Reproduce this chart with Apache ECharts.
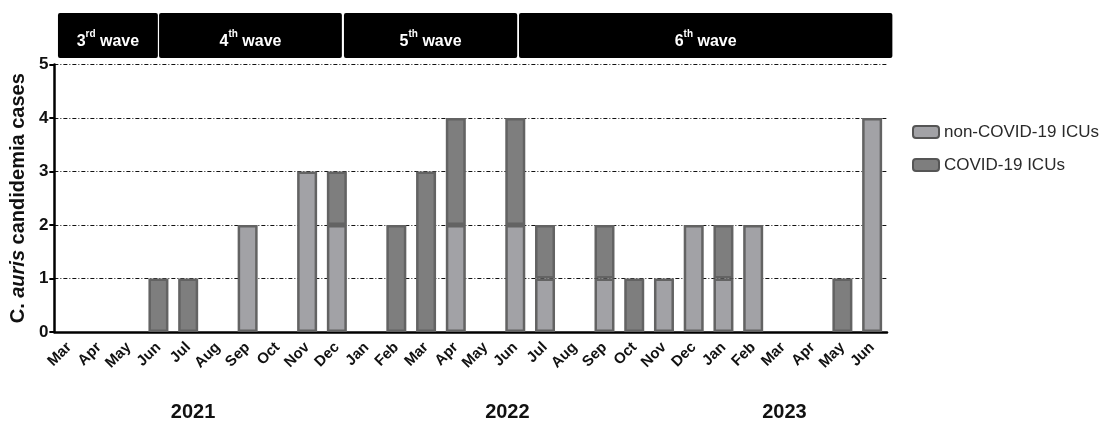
<!DOCTYPE html>
<html>
<head>
<meta charset="utf-8">
<script src="https://cdn.jsdelivr.net/npm/echarts@6/dist/echarts.min.js"></script>
<style>
  html, body { margin: 0; padding: 0; background: #fff; }
  #chart { width: 1108px; height: 426px; }
</style>
</head>
<body>
<div id="chart"></div>
<script>
// Months from March 2021 to June 2023
const months = ['Mar','Apr','May','Jun','Jul','Aug','Sep','Oct','Nov','Dec',
                'Jan','Feb','Mar','Apr','May','Jun','Jul','Aug','Sep','Oct','Nov','Dec',
                'Jan','Feb','Mar','Apr','May','Jun'];
// Monthly C. auris candidemia cases by ICU type
const nonCovidICU = [0,0,0,0,0,0,2,0,3,2, 0,0,0,2,0,2,1,0,1,0,1,2, 1,2,0,0,0,4];
const covidICU    = [0,0,0,1,1,0,0,0,0,1, 0,2,3,2,0,2,1,0,1,1,0,0, 1,0,0,0,1,0];
// Pandemic waves: [start, end] in month-index units, ordinal and suffix
const waveStart = [-0.3, 3.09, 9.29, 15.16];
const waveEnd   = [3.05, 9.22, 15.1, 27.68];
const waveNum   = ['3', '4', '5', '6'];
const waveSup   = ['rd', 'th', 'th', 'th'];
// Year captions and their centre positions along the month axis
const years    = ['2021', '2022', '2023'];
const yearPos  = [4.23, 14.77, 24.06];

const LIGHT = '#a2a2a6';
const DARK = '#7e7e7e';
const EDGE = '#636363';
const SANS = '"Liberation Sans", Arial, sans-serif';

// empty months get no bar segment at all
const segment = v => (v === 0 ? '-' : v);

const chart = echarts.init(document.getElementById('chart'), null, { renderer: 'canvas' });

const waveData = waveStart.map((s, i) => [s, waveEnd[i], waveNum[i], waveSup[i]]);

chart.setOption({
  animation: false,
  grid: [
    { left: 52, right: 221, top: 64.5, bottom: 94, containLabel: false },
    { left: 52, right: 221, top: 13, height: 45, containLabel: false }
  ],
  legend: {
    orient: 'vertical',
    left: 907,
    top: 117,
    itemWidth: 26,
    itemHeight: 12,
    itemGap: 13,
    icon: 'roundRect',
    itemStyle: { borderColor: '#555', borderWidth: 2 },
    textStyle: {
      fontFamily: SANS,
      fontSize: 17,
      color: '#2a2a2a',
      lineHeight: 20
    },
    data: ['non-COVID-19 ICUs', 'COVID-19 ICUs']
  },
  xAxis: [
    {
      type: 'category',
      gridIndex: 0,
      data: months,
      axisLine: { lineStyle: { color: '#000', width: 2.5 } },
      axisTick: { alignWithLabel: true, length: 7, lineStyle: { color: '#000', width: 2 } },
      axisLabel: {
        rotate: 45,
        margin: 13,
        interval: 0,
        color: '#111',
        fontFamily: SANS,
        fontWeight: 'bold',
        fontSize: 15
      },
      splitLine: { show: false }
    },
    {
      type: 'value',
      gridIndex: 1,
      min: -0.5,
      max: months.length - 0.5,
      show: false
    }
  ],
  yAxis: [
    {
      type: 'value',
      gridIndex: 0,
      min: 0,
      max: 5,
      interval: 1,
      axisLine: { show: true, lineStyle: { color: '#000', width: 2.5 } },
      axisTick: { show: true, length: 5, lineStyle: { color: '#000', width: 2 } },
      axisLabel: {
        margin: 6,
        color: '#111',
        fontFamily: SANS,
        fontWeight: 'bold',
        fontSize: 17
      },
      splitLine: {
        show: true,
        lineStyle: { color: '#111', width: 1.2, type: [4, 2, 1, 2] }
      },
      name: '{n|C. }{i|auris}{n| candidemia cases}',
      nameLocation: 'middle',
      nameGap: 26,
      nameTextStyle: {
        rich: {
          n: { fontFamily: SANS, fontWeight: 'bold', fontSize: 20, color: '#111' },
          i: { fontFamily: SANS, fontWeight: 'bold', fontStyle: 'italic', fontSize: 20, color: '#111' }
        }
      }
    },
    {
      type: 'value',
      gridIndex: 1,
      min: 0,
      max: 1,
      show: false
    }
  ],
  series: [
    {
      name: 'non-COVID-19 ICUs',
      type: 'bar',
      stack: 'cases',
      xAxisIndex: 0,
      yAxisIndex: 0,
      barWidth: 20,
      data: nonCovidICU.map(segment),
      itemStyle: { color: LIGHT, borderColor: EDGE, borderWidth: 2.5 }
    },
    {
      name: 'COVID-19 ICUs',
      type: 'bar',
      stack: 'cases',
      xAxisIndex: 0,
      yAxisIndex: 0,
      barWidth: 20,
      data: covidICU.map(segment),
      itemStyle: { color: DARK, borderColor: EDGE, borderWidth: 2.5 }
    },
    {
      // black banner boxes naming each wave
      type: 'custom',
      xAxisIndex: 1,
      yAxisIndex: 1,
      clip: false,
      silent: true,
      data: waveData,
      renderItem: function (params, api) {
        const p0 = api.coord([api.value(0), 1]);
        const p1 = api.coord([api.value(1), 0]);
        const d = waveData[params.dataIndex];
        const w = p1[0] - p0[0];
        const h = p1[1] - p0[1];
        return {
          type: 'group',
          children: [
            {
              type: 'rect',
              shape: { x: p0[0], y: p0[1], width: w, height: h, r: 2 },
              style: { fill: '#000' }
            },
            {
              type: 'text',
              x: p0[0] + w / 2,
              y: p0[1] + h / 2 + 4,
              style: {
                text: '{n|' + d[2] + '}{s|' + d[3] + '}{n| wave}',
                align: 'center',
                verticalAlign: 'middle',
                rich: {
                  n: { fill: '#fff', fontFamily: SANS, fontWeight: 'bold', fontSize: 16, verticalAlign: 'bottom', lineHeight: 20 },
                  s: { fill: '#fff', fontFamily: SANS, fontWeight: 'bold', fontSize: 10, verticalAlign: 'top', lineHeight: 20 }
                }
              }
            }
          ]
        };
      }
    }
  ]
});

// Year captions under the month labels, and the thin rule inside the last banner
function placeExtras() {
  const g = [];
  years.forEach((y, i) => {
    const px = chart.convertToPixel({ xAxisIndex: 1 }, yearPos[i]);
    g.push({
      type: 'text',
      x: px,
      y: 412,
      style: {
        text: y,
        align: 'center',
        verticalAlign: 'middle',
        fill: '#111',
        font: 'bold 20px "Liberation Sans", Arial, sans-serif'
      }
    });
  });
  const last = waveEnd.length - 1;
  const rx = chart.convertToPixel({ xAxisIndex: 1 }, waveEnd[last]) - 4;
  g.push({
    type: 'line',
    shape: { x1: rx, y1: 18, x2: rx, y2: 53 },
    style: { stroke: '#e8e8e8', lineWidth: 1 }
  });
  chart.setOption({ graphic: g });
}
placeExtras();
</script>
</body>
</html>
